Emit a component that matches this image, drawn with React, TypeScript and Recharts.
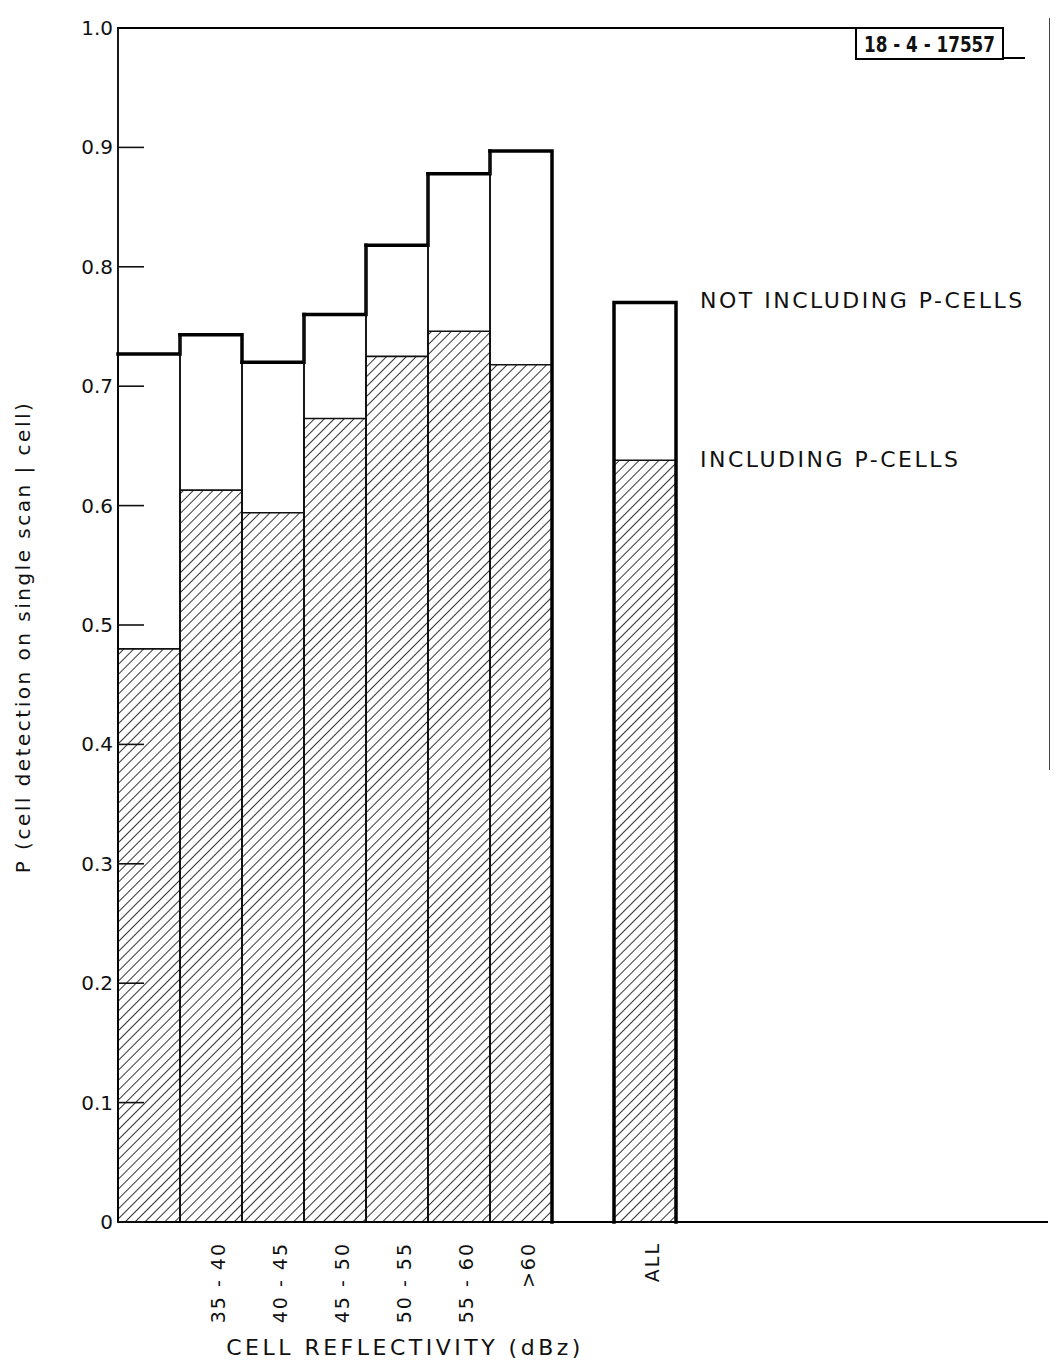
import React from 'react';
import { BarChart, Bar, XAxis, YAxis } from 'recharts';

// bins of cell reflectivity; first bin is unlabelled in the original, "gap" and pads are empty slots
const categories = ['lt35', '35-40', '40-45', '45-50', '50-55', '55-60', 'gt60', 'gap', 'ALL', 'p1', 'p2', 'p3', 'p4', 'p5', 'p6'];
const tickLabels = ['', '35 - 40', '40 - 45', '45 - 50', '50 - 55', '55 - 60', '>60', '', 'ALL', '', '', '', '', '', ''];
const notIncluding = [0.727, 0.743, 0.72, 0.76, 0.818, 0.878, 0.897, null, 0.77, null, null, null, null, null, null];
const including = [0.48, 0.613, 0.594, 0.673, 0.725, 0.746, 0.718, null, 0.638, null, null, null, null, null, null];
const yTicks = [0, 0.1, 0.2, 0.3, 0.4, 0.5, 0.6, 0.7, 0.8, 0.9, 1.0];

const FONT = '"DejaVu Sans", "Liberation Sans", sans-serif';

const data = categories.map((c, i) => ({
  key: c,
  idx: i,
  notIncl: notIncluding[i],
  incl: including[i],
}));

const THICK = 3.5;

// white bar with the heavy stepped outline along its top
const OutlineShape = (props: any) => {
  const { x, y, width, height, payload } = props;
  const i = payload.idx;
  const v = notIncluding[i];
  if (v == null || !height) return null;
  const bottom = y + height;
  const k = height / v;
  const prev = i > 0 ? notIncluding[i - 1] : null;
  const next = i < notIncluding.length - 1 ? notIncluding[i + 1] : null;
  const right = x + width;
  const segs: string[] = [];
  segs.push(`M${x},${y} L${right},${y}`);
  if (next != null) {
    const ny = bottom - next * k;
    segs.push(`M${right},${y} L${right},${ny}`);
  } else {
    segs.push(`M${right},${y} L${right},${bottom}`);
  }
  if (i > 0 && prev == null) {
    segs.push(`M${x},${y} L${x},${bottom}`);
  }
  return (
    <g>
      <rect x={x} y={y} width={width} height={height} fill="none" stroke="#111" strokeWidth={1.6} />
      <path d={segs.join(' ')} fill="none" stroke="#000" strokeWidth={THICK} strokeLinecap="square" />
    </g>
  );
};

const YTick = (props: any) => {
  const { x, y, payload } = props;
  const v = payload.value;
  const label = v === 0 ? '0' : v.toFixed(1);
  return (
    <g>
      <text x={x - 5} y={y} textAnchor="end" dominantBaseline="central" fontFamily={FONT} fontSize={20} fill="#111">
        {label}
      </text>
      <line x1={x} y1={y} x2={x + 26} y2={y} stroke="#111" strokeWidth={1.6} />
    </g>
  );
};

const XTick = (props: any) => {
  const { x, y, payload } = props;
  const label = tickLabels[payload.index] ?? '';
  if (!label) return null;
  const tx = x + 7;
  const ty = y + 14;
  return (
    <text
      x={tx}
      y={ty}
      transform={`rotate(-90, ${tx}, ${ty})`}
      textAnchor="end"
      dominantBaseline="central"
      fontFamily={FONT}
      fontSize={19}
      letterSpacing={2}
      fill="#111"
    >
      {label}
    </text>
  );
};

export default function App() {
  return (
    <div style={{ position: 'absolute', left: 0, top: 0, width: 1056, height: 1364, background: '#fff', overflow: 'hidden' }}>
      <BarChart
        width={1056}
        height={1364}
        data={data}
        margin={{ top: 28, right: 8, left: 0, bottom: 42 }}
        barCategoryGap={0}
        barGap="-100%"
      >
        <defs>
          <pattern id="hatch" patternUnits="userSpaceOnUse" width={7} height={7} patternTransform="rotate(45)">
            <line x1={0} y1={0} x2={0} y2={7} stroke="#111" strokeWidth={1.7} />
          </pattern>
        </defs>
        <XAxis
          dataKey="key"
          height={100}
          axisLine={{ stroke: '#000', strokeWidth: 2.2 }}
          tickLine={false}
          interval={0}
          tick={<XTick />}
          tickMargin={0}
        />
        <YAxis
          width={118}
          domain={[0, 1]}
          ticks={yTicks}
          axisLine={{ stroke: '#000', strokeWidth: 1.8 }}
          tickLine={false}
          tickSize={0}
          tickMargin={0}
          tick={<YTick />}
          interval={0}
        />
        <Bar dataKey="incl" fill="url(#hatch)" stroke="#111" strokeWidth={1.6} isAnimationActive={false} />
        <Bar dataKey="notIncl" shape={<OutlineShape />} isAnimationActive={false} />
      </BarChart>

      <svg style={{ position: 'absolute', left: 0, top: 0, pointerEvents: 'none' }} width={1056} height={1364}>
        {/* frame top line and the figure stamp */}
        <line x1={117} y1={28} x2={856} y2={28} stroke="#000" strokeWidth={2} />
        <rect x={856} y={28} width={147} height={31} fill="#fff" stroke="#000" strokeWidth={2} />
        <text
          x={864}
          y={44}
          textLength={131}
          lengthAdjust="spacingAndGlyphs"
          fontFamily={FONT}
          fontWeight="bold"
          fontSize={22}
          dominantBaseline="central"
          fill="#111"
        >
          18 - 4 - 17557
        </text>
        <line x1={1003} y1={58} x2={1025} y2={58} stroke="#000" strokeWidth={2} />
        <line x1={1049.5} y1={18} x2={1049.5} y2={770} stroke="#444" strokeWidth={1} />

        <text x={700} y={300} fontFamily={FONT} fontSize={22} letterSpacing={2.5} dominantBaseline="central" fill="#111">
          NOT INCLUDING P-CELLS
        </text>
        <text x={700} y={459} fontFamily={FONT} fontSize={22} letterSpacing={2.5} dominantBaseline="central" fill="#111">
          INCLUDING P-CELLS
        </text>
        <text x={405} y={1347} fontFamily={FONT} fontSize={22} letterSpacing={3.5} textAnchor="middle" dominantBaseline="central" fill="#111">
          CELL REFLECTIVITY (dBz)
        </text>
        <text
          x={23}
          y={637}
          transform="rotate(-90, 23, 637)"
          fontFamily={FONT}
          fontSize={20}
          letterSpacing={2.5}
          textAnchor="middle"
          dominantBaseline="central"
          fill="#111"
        >
          P (cell detection on single scan | cell)
        </text>
      </svg>
    </div>
  );
}
